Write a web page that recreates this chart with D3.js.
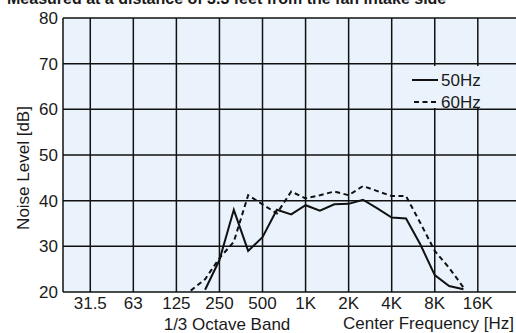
<!DOCTYPE html>
<html>
<head>
<meta charset="utf-8">
<script src="https://cdn.jsdelivr.net/npm/d3@7"></script>
<style>
  html, body { margin: 0; padding: 0; background: #fff; }
  svg { display: block; }
  text { font-family: "Liberation Sans", Arial, sans-serif; fill: #1a1a1a; }
</style>
</head>
<body>
<svg id="chart" width="516" height="333"></svg>
<script>
// 1/3-octave band centre frequencies, 31.5 Hz .. 16 kHz
const bands = ["31.5","40","50","63","80","100","125","160","200","250","315","400","500",
  "630","800","1K","1.25K","1.6K","2K","2.5K","3.15K","4K","5K","6.3K","8K","10K","12.5K","16K"];
// Octave labels shown on the frequency axis
const tickLabels = ["31.5","63","125","250","500","1K","2K","4K","8K","16K"];
const yTicks = [20, 30, 40, 50, 60, 70, 80];

// Measured bands and noise levels [dB]
const measuredBands = ["160","200","250","315","400","500","630","800","1K","1.25K","1.6K",
  "2K","2.5K","3.15K","4K","5K","6.3K","8K","10K","12.5K"];
const level50Hz = [null, 20.5, 27.0, 38.0, 29.0, 32.0, 38.0, 37.0, 39.0, 37.8, 39.2,
  39.3, 40.2, 38.3, 36.3, 36.1, 30.4, 23.7, 21.3, 20.6];
const level60Hz = [20.3, 22.8, 27.4, 31.0, 41.2, 39.2, 37.2, 42.0, 40.5, 41.2, 42.0,
  41.2, 43.2, 42.1, 41.0, 41.0, 35.1, 29.0, 25.3, 21.0];

const series = [
  { name: "50Hz", values: level50Hz, dash: null },
  { name: "60Hz", values: level60Hz, dash: "5,3.5" }
];

const svg = d3.select("#chart");
const plotL = 63, plotT = 18, plotB = 292, plotR = 518;
const bg = "#eaf3fc";

const x = d3.scaleLinear().domain([-1.9, 29.8]).range([plotL, plotR]);
const y = d3.scaleLinear().domain([20, 80]).range([plotB, plotT]);
const bx = b => x(bands.indexOf(b));

// Header line (partly outside the canvas)
svg.append("text")
  .attr("x", 7).attr("y", 4)
  .attr("font-size", 16).attr("font-weight", "bold")
  .text("Measured at a distance of 3.3 feet from the fan intake side");

// Plot background
svg.append("rect")
  .attr("x", plotL).attr("y", plotT)
  .attr("width", plotR - plotL).attr("height", plotB - plotT)
  .attr("fill", bg);

// Grid
const grid = svg.append("g").attr("stroke", "#111").attr("stroke-width", 1.5);
grid.selectAll("line.h").data(yTicks).join("line")
  .attr("x1", plotL).attr("x2", plotR)
  .attr("y1", d => y(d)).attr("y2", d => y(d));
grid.selectAll("line.v").data(tickLabels).join("line")
  .attr("x1", d => bx(d)).attr("x2", d => bx(d))
  .attr("y1", plotT).attr("y2", plotB);
grid.append("line").attr("x1", plotL).attr("x2", plotL).attr("y1", plotT).attr("y2", plotB);

// Axis labels
svg.append("g").selectAll("text").data(yTicks).join("text")
  .attr("x", 58).attr("y", d => y(d))
  .attr("dy", "0.36em")
  .attr("text-anchor", "end")
  .attr("font-size", 17)
  .text(d => d);

svg.append("g").selectAll("text").data(tickLabels).join("text")
  .attr("x", d => bx(d)).attr("y", 309)
  .attr("text-anchor", "middle")
  .attr("font-size", 17)
  .text(d => d);

svg.append("text")
  .attr("transform", "translate(29,168) rotate(-90)")
  .attr("text-anchor", "middle")
  .attr("font-size", 17)
  .text("Noise Level [dB]");

svg.append("text")
  .attr("x", 227).attr("y", 330)
  .attr("text-anchor", "middle")
  .attr("font-size", 17)
  .text("1/3 Octave Band");

svg.append("text")
  .attr("x", 514).attr("y", 329)
  .attr("text-anchor", "end")
  .attr("font-size", 17)
  .text("Center Frequency [Hz]");

// Data lines
const line = d3.line()
  .defined(d => d.v != null)
  .x(d => bx(d.b))
  .y(d => y(d.v));

svg.append("g").selectAll("path").data(series).join("path")
  .attr("d", s => line(measuredBands.map((b, i) => ({ b, v: s.values[i] }))))
  .attr("fill", "none")
  .attr("stroke", "#111")
  .attr("stroke-width", 2)
  .attr("stroke-dasharray", s => s.dash);

// Legend
const lg = svg.append("g");
lg.append("rect").attr("x", 410).attr("y", 66).attr("width", 77).attr("height", 42).attr("fill", bg);
const items = lg.selectAll("g").data(series).join("g")
  .attr("transform", (d, i) => `translate(0,${80 + i * 22})`);
items.append("line")
  .attr("x1", d => d.dash ? 414 : 412).attr("x2", 438)
  .attr("stroke", "#111").attr("stroke-width", 2)
  .attr("stroke-dasharray", d => d.dash);
items.append("text")
  .attr("x", 441).attr("dy", "0.36em")
  .attr("font-size", 17)
  .text(d => d.name);
</script>
</body>
</html>
